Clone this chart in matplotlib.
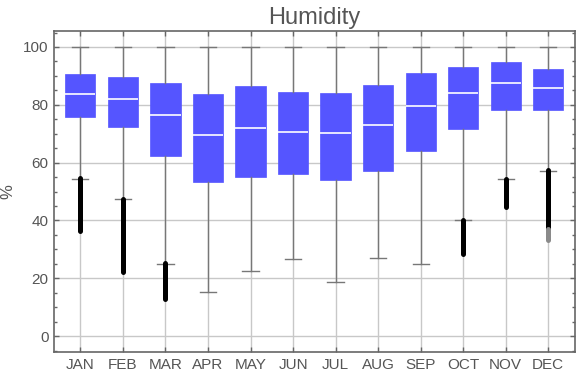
import numpy as np
import matplotlib
matplotlib.use("Agg")
import matplotlib.pyplot as plt
from matplotlib.ticker import MultipleLocator

# Monthly humidity summary (%)
months = ["JAN", "FEB", "MAR", "APR", "MAY", "JUN",
          "JUL", "AUG", "SEP", "OCT", "NOV", "DEC"]
q1 = [75.9, 72.4, 62.4, 53.3, 55.1, 56.1, 54.0, 57.2, 64.1, 71.7, 78.2, 78.3]
median = [83.8, 82.1, 76.4, 69.4, 71.9, 70.5, 70.1, 73.1, 79.5, 84.1, 87.5, 85.7]
q3 = [90.7, 89.6, 87.5, 83.7, 86.5, 84.4, 84.1, 86.9, 91.0, 93.1, 94.8, 92.4]
whisker_low = [54.2, 47.3, 25.1, 15.1, 22.4, 26.5, 18.6, 26.9, 24.8, 40.0, 54.2, 57.1]
whisker_high = [100, 100, 100, 100, 100, 100, 100, 100, 100, 100, 100, 100]

# Range covered by the (densely packed) outliers below the lower whisker
outlier_top = [54.6, 47.5, 25.3, None, None, None, None, None, None, 40.3, 54.5, 57.4]
outlier_bottom = [36.3, 22.3, 12.7, None, None, None, None, None, None, 28.3, 44.5, 37.0]
# sparser grey tail under DEC
dec_tail = (37.0, 33.4)

BOX_COLOR = "#5555ff"
LINE_GRAY = "#777777"
TEXT_GRAY = "#555555"
GRID_GRAY = "#c8c8c8"

plt.rcParams["font.family"] = ["Liberation Sans", "DejaVu Sans"]

fig = plt.figure(figsize=(5.76, 3.75), dpi=100)
ax = fig.add_axes([0.0938, 0.0613, 0.9045, 0.855])

positions = np.arange(1, len(months) + 1)
stats = []
for i, m in enumerate(months):
    stats.append({
        "label": m,
        "med": median[i],
        "q1": q1[i],
        "q3": q3[i],
        "whislo": whisker_low[i],
        "whishi": whisker_high[i],
        "fliers": [],
    })

ax.bxp(
    stats,
    positions=positions,
    widths=0.71,
    capwidths=0.38,
    patch_artist=True,
    showfliers=False,
    boxprops=dict(facecolor=BOX_COLOR, edgecolor=BOX_COLOR, linewidth=0.5),
    medianprops=dict(color="white", linewidth=1.2),
    whiskerprops=dict(color=LINE_GRAY, linewidth=1.0),
    capprops=dict(color=LINE_GRAY, linewidth=1.0),
    zorder=3,
)

# outliers drawn as solid columns of points
for x, top, bot in zip(positions, outlier_top, outlier_bottom):
    if top is None:
        continue
    ax.vlines(x, bot, top, color="black", linewidth=3.6, capstyle="round", zorder=4)
ax.vlines(positions[-1], dec_tail[1], dec_tail[0], color="#8a8a8a",
          linewidth=3.6, capstyle="round", zorder=4)

ax.set_xlim(0.38, 12.63)
ax.set_ylim(-5.5, 105.4)
ax.set_xticks(positions)
ax.set_xticklabels(months)
ax.set_yticks([0, 20, 40, 60, 80, 100])
ax.yaxis.set_minor_locator(MultipleLocator(5))

ax.grid(True, color=GRID_GRAY, linewidth=1.0, zorder=0)
ax.set_axisbelow(True)

for side in ax.spines.values():
    side.set_color("#666666")
    side.set_linewidth(1.2)

ax.tick_params(which="both", direction="in", top=True, right=True,
               color="#666666", labelcolor=TEXT_GRAY, labelsize=11)
ax.tick_params(which="major", length=3.6, width=1.0, pad=4)
ax.tick_params(which="minor", length=2.2, width=1.0)
ax.tick_params(axis="x", which="minor", bottom=False, top=False)

ax.set_ylabel("%", color=TEXT_GRAY, fontsize=12)
ax.yaxis.set_label_coords(-0.075, 0.5)
ax.set_title("Humidity", color=TEXT_GRAY, fontsize=17, pad=5)

fig.savefig("out.png", dpi=100)
